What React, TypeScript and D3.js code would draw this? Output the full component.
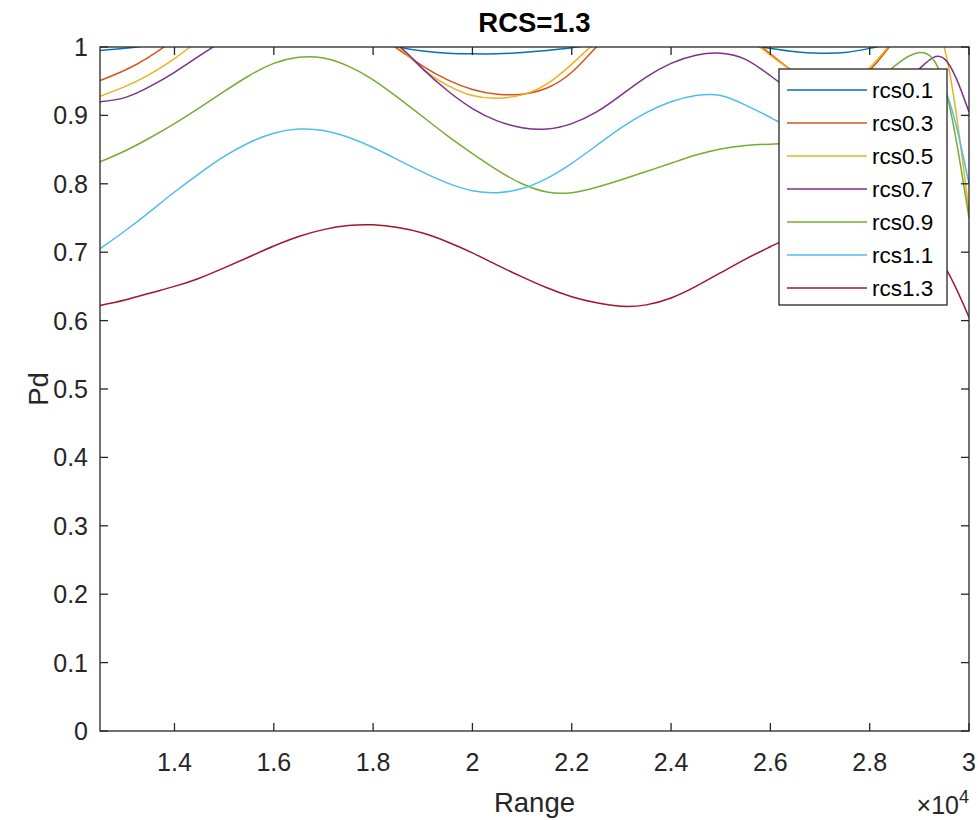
import React from 'react';
import * as d3 from 'd3';

// Target range samples (m)
const range = [
  12500, 13000, 13500, 14000, 14500, 15000, 15500, 16000, 16500, 17000, 17500, 18000,
  18500, 19000, 19500, 20000, 20500, 21000, 21500, 22000, 22500, 23000, 23500, 24000,
  24500, 25000, 25500, 26000, 26500, 27000, 27500, 28000, 28500, 29000, 29500, 30000,
];

// Detection probability for each RCS hypothesis
const pdRcs01 = [
  0.995, 0.998, 1.003, 1.01, 1.018, 1.025, 1.03, 1.032, 1.03, 1.025, 1.017, 1.008,
  1.0, 0.994, 0.991, 0.99, 0.99, 0.992, 0.995, 0.999, 1.005, 1.012, 1.018, 1.02,
  1.018, 1.012, 1.004, 0.998, 0.993, 0.991, 0.992, 0.998, 1.006, 1.014, 1.02, 1.02,
];
const pdRcs03 = [
  0.951, 0.966, 0.986, 1.01, 1.03, 1.048, 1.06, 1.065, 1.063, 1.055, 1.04, 1.02,
  0.997, 0.972, 0.952, 0.938, 0.931, 0.931, 0.94, 0.963, 1.0, 1.03, 1.05, 1.058,
  1.055, 1.04, 1.018, 0.99, 0.962, 0.944, 0.945, 0.966, 1.01, 1.05, 1.07, 1.06,
];
const pdRcs05 = [
  0.928, 0.942, 0.96, 0.983, 1.01, 1.033, 1.05, 1.06, 1.062, 1.055, 1.04, 1.02,
  1.0, 0.968, 0.944, 0.929, 0.925, 0.93, 0.946, 0.975, 1.008, 1.035, 1.05, 1.055,
  1.05, 1.035, 1.015, 0.988, 0.962, 0.947, 0.95, 0.97, 1.01, 1.035, 1.0, 0.76,
];
const pdRcs07 = [
  0.92, 0.926, 0.942, 0.963, 0.987, 1.01, 1.03, 1.043, 1.05, 1.048, 1.04, 1.025,
  1.003, 0.968, 0.936, 0.91, 0.892, 0.882, 0.88, 0.888, 0.905, 0.93, 0.956, 0.976,
  0.988, 0.991, 0.982, 0.958, 0.932, 0.912, 0.905, 0.915, 0.94, 0.968, 0.983, 0.905,
];
const pdRcs09 = [
  0.832, 0.848, 0.867, 0.888, 0.911, 0.935, 0.958, 0.976, 0.985, 0.984, 0.972, 0.952,
  0.926, 0.898, 0.87, 0.844, 0.82, 0.8, 0.788, 0.787, 0.795, 0.806, 0.818, 0.83,
  0.842, 0.851, 0.856, 0.858, 0.86, 0.872, 0.9, 0.938, 0.972, 0.992, 0.945, 0.75,
];
const pdRcs11 = [
  0.705, 0.731, 0.759, 0.788, 0.815, 0.84, 0.86, 0.874, 0.88, 0.878, 0.868, 0.853,
  0.835, 0.817, 0.801, 0.79, 0.787, 0.793, 0.808, 0.83, 0.856, 0.882, 0.904, 0.92,
  0.929, 0.929, 0.915, 0.897, 0.878, 0.866, 0.868, 0.885, 0.915, 0.945, 0.94, 0.8,
];
const pdRcs13 = [
  0.622, 0.63, 0.64, 0.65, 0.662, 0.677, 0.693, 0.709, 0.723, 0.733, 0.739, 0.74,
  0.736, 0.728, 0.715, 0.699, 0.681, 0.664, 0.648, 0.635, 0.626, 0.621, 0.623, 0.633,
  0.65, 0.67, 0.69, 0.708, 0.725, 0.738, 0.745, 0.745, 0.735, 0.715, 0.68, 0.605,
];

const seriesNames = ['rcs0.1', 'rcs0.3', 'rcs0.5', 'rcs0.7', 'rcs0.9', 'rcs1.1', 'rcs1.3'];
const seriesValues = [pdRcs01, pdRcs03, pdRcs05, pdRcs07, pdRcs09, pdRcs11, pdRcs13];
const seriesColors = ['#0072BD', '#D95319', '#EDB120', '#7E2F8E', '#77AC30', '#4DBEEE', '#A2142F'];

const xTickValues = [14000, 16000, 18000, 20000, 22000, 24000, 26000, 28000, 30000];
const xTickLabels = ['1.4', '1.6', '1.8', '2', '2.2', '2.4', '2.6', '2.8', '3'];
const yTickValues = [0, 0.1, 0.2, 0.3, 0.4, 0.5, 0.6, 0.7, 0.8, 0.9, 1];
const yTickLabels = ['0', '0.1', '0.2', '0.3', '0.4', '0.5', '0.6', '0.7', '0.8', '0.9', '1'];

const FONT = '"Liberation Sans", Arial, Helvetica, sans-serif';
const AXIS = '#262626';

export default function App() {
  const W = 978;
  const H = 820;
  const plot = { left: 100, right: 969, top: 47, bottom: 731 };

  const x = d3.scaleLinear().domain([12500, 30000]).range([plot.left, plot.right]);
  const y = d3.scaleLinear().domain([0, 1]).range([plot.bottom, plot.top]);

  const line = d3
    .line<number>()
    .x((_, i) => x(range[i]))
    .y((d) => y(d))
    .curve(d3.curveNatural);

  const tickLen = 8;
  const legend = { x: 779, y: 69, w: 168, h: 236 };
  const rowH = 33;

  return (
    <svg
      width={W}
      height={H}
      style={{ position: 'absolute', left: 0, top: 0, background: '#fff' }}
      fontFamily={FONT}
    >
      <rect x={0} y={0} width={W} height={H} fill="#fff" />
      <defs>
        <clipPath id="plot-area">
          <rect
            x={plot.left}
            y={plot.top}
            width={plot.right - plot.left}
            height={plot.bottom - plot.top}
          />
        </clipPath>
      </defs>

      {/* curves */}
      <g clipPath="url(#plot-area)">
        {seriesValues.map((vals, k) => (
          <path
            key={seriesNames[k]}
            d={line(vals) || ''}
            fill="none"
            stroke={seriesColors[k]}
            strokeWidth={1.5}
          />
        ))}
      </g>

      {/* axes box */}
      <rect
        x={plot.left}
        y={plot.top}
        width={plot.right - plot.left}
        height={plot.bottom - plot.top}
        fill="none"
        stroke={AXIS}
        strokeWidth={1.3}
      />

      {/* x ticks */}
      {xTickValues.map((v, i) => (
        <g key={`xt${v}`}>
          <line x1={x(v)} x2={x(v)} y1={plot.bottom} y2={plot.bottom - tickLen} stroke={AXIS} strokeWidth={1.3} />
          <line x1={x(v)} x2={x(v)} y1={plot.top} y2={plot.top + tickLen} stroke={AXIS} strokeWidth={1.3} />
          <text
            x={x(v)}
            y={plot.bottom + 40}
            textAnchor="middle"
            fontSize={25}
            fill={AXIS}
          >
            {xTickLabels[i]}
          </text>
        </g>
      ))}

      {/* y ticks */}
      {yTickValues.map((v, i) => (
        <g key={`yt${v}`}>
          <line x1={plot.left} x2={plot.left + tickLen} y1={y(v)} y2={y(v)} stroke={AXIS} strokeWidth={1.3} />
          <line x1={plot.right} x2={plot.right - tickLen} y1={y(v)} y2={y(v)} stroke={AXIS} strokeWidth={1.3} />
          <text
            x={plot.left - 12}
            y={y(v) + 9}
            textAnchor="end"
            fontSize={25}
            fill={AXIS}
          >
            {yTickLabels[i]}
          </text>
        </g>
      ))}

      {/* exponent */}
      <text x={plot.right} y={814} textAnchor="end" fontSize={25} fill={AXIS}>
        ×10
        <tspan dy={-11} fontSize={18}>4</tspan>
      </text>

      {/* labels */}
      <text
        x={(plot.left + plot.right) / 2}
        y={812}
        textAnchor="middle"
        fontSize={27.5}
        fill={AXIS}
      >
        Range
      </text>
      <text
        transform={`translate(48, ${(plot.top + plot.bottom) / 2}) rotate(-90)`}
        textAnchor="middle"
        fontSize={27.5}
        fill={AXIS}
      >
        Pd
      </text>
      <text
        x={(plot.left + plot.right) / 2}
        y={32}
        textAnchor="middle"
        fontSize={27.5}
        fontWeight="bold"
        fill="#000"
      >
        RCS=1.3
      </text>

      {/* legend */}
      <rect
        x={legend.x}
        y={legend.y}
        width={legend.w}
        height={legend.h}
        fill="#fff"
        stroke={AXIS}
        strokeWidth={1.3}
      />
      {seriesNames.map((name, k) => {
        const cy = legend.y + 21 + k * rowH;
        return (
          <g key={`lg${name}`}>
            <line x1={legend.x + 8} x2={legend.x + 88} y1={cy} y2={cy} stroke={seriesColors[k]} strokeWidth={1.5} />
            <text x={legend.x + 93} y={cy + 8} fontSize={22.5} fill="#000">
              {name}
            </text>
          </g>
        );
      })}
    </svg>
  );
}
